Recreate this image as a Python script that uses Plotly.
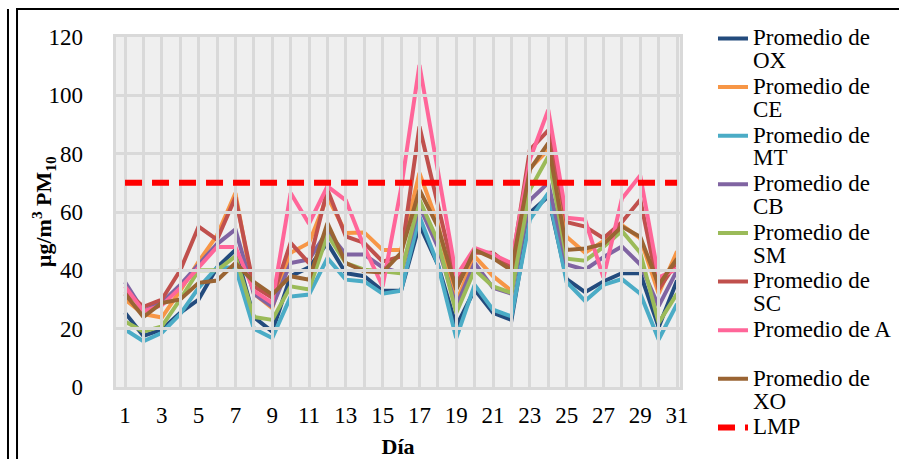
import plotly.graph_objects as go

# daily averages of PM10 (ug/m3) per station
days = list(range(1, 32))

ox = [25.5, 17.5, 19.7, 25.4, 30, 41, 47, 24, 19, 38, 41, 49.4, 39, 38, 33, 33,
      55.7, 42, 20.8, 33.4, 25.4, 23, 59.7, 65.3, 37, 32.5, 36.2, 39, 39, 20.5, 36.5]
ce = [30, 25, 23.8, 33, 43, 52, 66.5, 32, 27, 46, 49.4, 65.3, 52.8, 53, 47, 47,
      73.4, 56, 29, 44.8, 38, 33, 75, 81.3, 51.5, 46, 50, 55.5, 51, 32, 46.5]
mt = [19.7, 15.7, 18.6, 25, 34, 41, 41, 20, 16.8, 31, 31.7, 44.2, 36.8, 36.2, 32, 33,
      58.5, 42, 16.8, 35, 26.5, 24.2, 57.4, 66.5, 36, 29.5, 35, 37, 32, 16.3, 28.5]
cb = [36, 26, 29, 35, 42, 49, 54, 32, 27.5, 42.5, 43.7, 53.4, 45.4, 45.4, 41, 39,
      62, 48, 27.7, 42.5, 34, 32, 64, 70, 42, 40.2, 44.5, 48.2, 42, 27.7, 40]
sm = [22.5, 19, 20.8, 30, 40, 40, 44.8, 24, 23, 34.5, 33.4, 52.2, 42.5, 40.2, 39.7, 39,
      64.2, 50, 25.4, 40.2, 34.5, 32.3, 67.6, 79, 44, 43.3, 48, 53.5, 46, 22, 32]
sc = [33, 27.5, 30, 40, 55, 50.5, 65, 34.5, 30.6, 49.4, 42.5, 67.6, 51.6, 49.4, 43, 44.8,
      89.3, 62, 35.7, 46, 46, 41, 81.3, 88, 56.5, 55, 51, 56.5, 64.2, 33.5, 43]
a = [34.5, 26, 28, 34, 41, 48, 48, 33, 28.8, 66.5, 56, 68.8, 64, 48, 34.5, 68,
     110.4, 75, 38, 47.7, 45.4, 42.5, 78, 95, 58, 57.4, 37.5, 64.5, 72.5, 37.5, 40.5]
xo = [32, 24, 28.8, 30, 35.7, 36.5, 42.5, 36, 31.7, 38, 36.8, 56.2, 42.5, 39.7, 39.3, 46,
      67.6, 55, 33.4, 47, 44.2, 40, 74.5, 83.6, 47, 47.5, 49, 55, 51.5, 35, 44]
lmp = [70] * len(days)

series = [
    (["Promedio de", "OX"], ox, "#234B7D"),
    (["Promedio de", "CE"], ce, "#F79646"),
    (["Promedio de", "MT"], mt, "#4BACC6"),
    (["Promedio de", "CB"], cb, "#8064A2"),
    (["Promedio de", "SM"], sm, "#9BBB59"),
    (["Promedio de", "SC"], sc, "#C0504D"),
    (["Promedio de A", " "], a, "#FF6699"),
    (["Promedio de", "XO"], xo, "#9A6433"),
]

serif = "Times New Roman, Liberation Serif, serif"
grid = "#d9d9d9"


def big(lines):
    # legend keeps tight line spacing (small legend font) but shows larger glyphs
    return "<br>".join(f'<span style="font-size:23px">{t}</span>' for t in lines)


fig = go.Figure()
for name, vals, color in series:
    fig.add_trace(go.Scatter(x=days, y=vals, name=big(name), mode="lines",
                             line=dict(color=color, width=4)))
# LMP goes on the upper subplot so the grid does not cut its dashes
fig.add_trace(go.Scatter(x=days, y=lmp, name=big(["LMP"]), mode="lines",
                         xaxis="x2", yaxis="y2",
                         line=dict(color="#FF0000", width=6, dash="17px,10px")))

xr = [0.51, 31.16]
yr = [0, 120]

fig.update_layout(
    width=899, height=459,
    margin=dict(l=116, r=219, t=37, b=72, autoexpand=False),
    paper_bgcolor="white",
    plot_bgcolor="rgba(0,0,0,0)",
    font=dict(family=serif, size=23, color="black"),
    showlegend=True,
    legend=dict(x=1.0585, y=1.047, xanchor="left", yanchor="top", maxheight=459,
                font=dict(size=17.55), valign="top", bgcolor="rgba(0,0,0,0)"),
    xaxis=dict(range=xr, tickmode="linear", tick0=1, dtick=2, showgrid=False,
               zeroline=False, ticks="", ticklabelstandoff=12, automargin=False,
               title=dict(text="<b>Día</b>", standoff=16, font=dict(size=22))),
    yaxis=dict(range=yr, dtick=20, showgrid=False, zeroline=False, ticks="",
               ticklabelstandoff=32, automargin=False),
    # second subplot on the same area: its grid sits on top of the station lines
    xaxis2=dict(range=xr, anchor="y2", domain=[0, 1], dtick=1, tick0=1,
                showgrid=True, gridcolor=grid, gridwidth=3, showticklabels=False,
                zeroline=False, showline=True, linecolor=grid, linewidth=3, mirror=True,
                automargin=False),
    yaxis2=dict(range=yr, anchor="x2", domain=[0, 1], dtick=20, showgrid=True,
                gridcolor=grid, gridwidth=2.5, showticklabels=False, zeroline=False,
                showline=True, linecolor=grid, linewidth=3, mirror=True, automargin=False),
)

fig.add_annotation(text="<b>µg/m<sup>3</sup> PM<sub>10</sub></b>", textangle=-90,
                   xref="paper", yref="paper", x=-0.129, y=0.5, showarrow=False,
                   xanchor="center", yanchor="middle", font=dict(size=22))

# plot area fill (under the lines) and outer frame of the original figure
fig.add_shape(type="rect", xref="paper", yref="paper", x0=0, x1=1, y0=0, y1=1,
              layer="below", fillcolor="#efefef", line=dict(width=0))
fig.add_shape(type="line", xref="paper", yref="paper", x0=-0.1915, x1=-0.1915,
              y0=1.08, y1=-0.3, line=dict(color="black", width=2))
fig.add_shape(type="rect", xref="paper", yref="paper", x0=-0.1755, x1=1.45,
              y0=1.08, y1=-0.3, line=dict(color="black", width=2))

fig.write_html("out.html", config={"displayModeBar": False},
               post_script="document.body.style.margin='0';")
